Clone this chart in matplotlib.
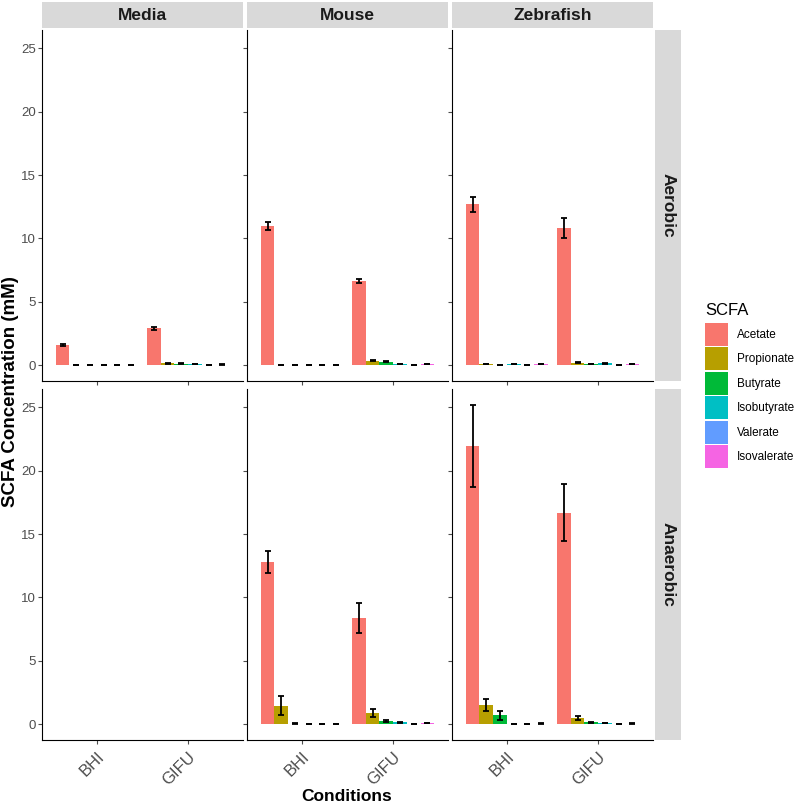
import numpy as np
import matplotlib
matplotlib.use("Agg")
import matplotlib.pyplot as plt
from matplotlib.patches import Rectangle

plt.rcParams['font.family'] = ['Liberation Sans', 'DejaVu Sans']

# data
sources = ["Media", "Mouse", "Zebrafish"]
oxygen = ["Aerobic", "Anaerobic"]
conditions = ["BHI", "GIFU"]
scfa = ["Acetate", "Propionate", "Butyrate", "Isobutyrate", "Valerate", "Isovalerate"]
colors = ["#F8766D", "#B79F00", "#00BA38", "#00BFC4", "#619CFF", "#F564E3"]

# mean values, rows = BHI, GIFU ; columns = scfa
media_aerobic = [[1.6, 0, 0, 0, 0, 0],
                 [2.9, 0.15, 0.12, 0.1, 0, 0.05]]
media_aerobic_err = [[0.05, 0, 0, 0, 0, 0],
                     [0.1, 0.02, 0.02, 0.02, 0, 0.02]]
mouse_aerobic = [[11.0, 0, 0, 0, 0, 0],
                 [6.65, 0.35, 0.25, 0.1, 0, 0.1]]
mouse_aerobic_err = [[0.3, 0, 0, 0, 0, 0],
                     [0.15, 0.04, 0.04, 0.03, 0, 0.03]]
zebra_aerobic = [[12.7, 0.1, 0, 0.1, 0, 0.1],
                 [10.85, 0.2, 0.1, 0.15, 0, 0.1]]
zebra_aerobic_err = [[0.6, 0.03, 0, 0.03, 0, 0.03],
                     [0.8, 0.04, 0.03, 0.03, 0, 0.03]]
mouse_anaerobic = [[12.8, 1.45, 0.05, 0, 0, 0],
                   [8.4, 0.9, 0.25, 0.15, 0, 0.1]]
mouse_anaerobic_err = [[0.85, 0.75, 0.02, 0, 0, 0],
                       [1.2, 0.3, 0.05, 0.03, 0, 0.03]]
zebra_anaerobic = [[21.95, 1.5, 0.7, 0, 0, 0.05],
                   [16.7, 0.5, 0.15, 0.1, 0, 0.05]]
zebra_anaerobic_err = [[3.25, 0.5, 0.35, 0, 0, 0.02],
                       [2.25, 0.15, 0.03, 0.03, 0, 0.02]]

panels = {
    ("Aerobic", "Media"): (media_aerobic, media_aerobic_err),
    ("Aerobic", "Mouse"): (mouse_aerobic, mouse_aerobic_err),
    ("Aerobic", "Zebrafish"): (zebra_aerobic, zebra_aerobic_err),
    ("Anaerobic", "Media"): (None, None),
    ("Anaerobic", "Mouse"): (mouse_anaerobic, mouse_anaerobic_err),
    ("Anaerobic", "Zebrafish"): (zebra_anaerobic, zebra_anaerobic_err),
}

W, H = 800, 805
fig = plt.figure(figsize=(W / 100, H / 100), dpi=100)

col_x = [42, 247, 452]
col_w = 201
row_y = [30, 389]
row_h = 351
strip_grey = "#D9D9D9"
tick_grey = "#4D4D4D"

bar_w = 0.9 / len(scfa)
ylim = (-1.25, 26.45)

for r, oxy in enumerate(oxygen):
    for c, src in enumerate(sources):
        ax = fig.add_axes([col_x[c] / W, 1 - (row_y[r] + row_h) / H,
                           col_w / W, row_h / H])
        vals, errs = panels[(oxy, src)]
        if vals is not None:
            for k, name in enumerate(scfa):
                x = np.arange(len(conditions)) + 1 + (k - 2.5) * bar_w
                v = [vals[i][k] for i in range(len(conditions))]
                e = [errs[i][k] for i in range(len(conditions))]
                ax.bar(x, v, width=bar_w, color=colors[k], linewidth=0)
                ax.errorbar(x, v, yerr=e, fmt="none", ecolor="black",
                            elinewidth=1.3, capsize=2, capthick=1.3)
        ax.set_xlim(0.4, 2.6)
        ax.set_ylim(*ylim)
        ax.set_xticks([1, 2])
        ax.set_yticks([0, 5, 10, 15, 20, 25])
        for sp in ["top", "right"]:
            ax.spines[sp].set_visible(False)
        ax.spines["left"].set_color("black")
        ax.spines["bottom"].set_color("black")
        ax.tick_params(colors=tick_grey, labelsize=9.5, length=3, width=0.8)
        ax.tick_params(axis="y", pad=1.5)
        if c != 0:
            ax.set_yticklabels([])
        if r == 1:
            ax.set_xticklabels(conditions, rotation=45, ha="right",
                               rotation_mode="anchor", fontsize=12,
                               color=tick_grey)
        else:
            ax.set_xticklabels([])

# column strips
for c, src in enumerate(sources):
    fig.add_artist(Rectangle((col_x[c] / W, 1 - 28 / H), col_w / W, 26 / H,
                             transform=fig.transFigure, color=strip_grey,
                             linewidth=0))
    fig.text((col_x[c] + col_w / 2) / W, 1 - 15 / H, src, ha="center",
             va="center", fontsize=12.5, fontweight="bold", color="#1A1A1A")

# row strips
for r, oxy in enumerate(oxygen):
    fig.add_artist(Rectangle((655 / W, 1 - (row_y[r] + row_h) / H), 26 / W,
                             row_h / H, transform=fig.transFigure,
                             color=strip_grey, linewidth=0))
    fig.text(668 / W, 1 - (row_y[r] + row_h / 2) / H, oxy, ha="center",
             va="center", rotation=-90, fontsize=12.5, fontweight="bold",
             color="#1A1A1A")

fig.text(11 / W, 1 - 392 / H, "SCFA Concentration (mM)", rotation=90,
         ha="center", va="center", fontsize=13.5, fontweight="bold")
fig.text(347 / W, 1 - 796 / H, "Conditions", ha="center", va="center",
         fontsize=12.5, fontweight="bold")

# legend
fig.text(705 / W, 1 - 310 / H, "SCFA", ha="left", va="center", fontsize=12)
for k, name in enumerate(scfa):
    y = 323 + k * 24.5
    fig.add_artist(Rectangle((705 / W, 1 - (y + 23) / H), 23 / W, 23 / H,
                             transform=fig.transFigure, color=colors[k],
                             linewidth=0))
    fig.text(737 / W, 1 - (y + 11.5) / H, name, ha="left", va="center",
             fontsize=8.5)

fig.savefig("out.png", dpi=100)
